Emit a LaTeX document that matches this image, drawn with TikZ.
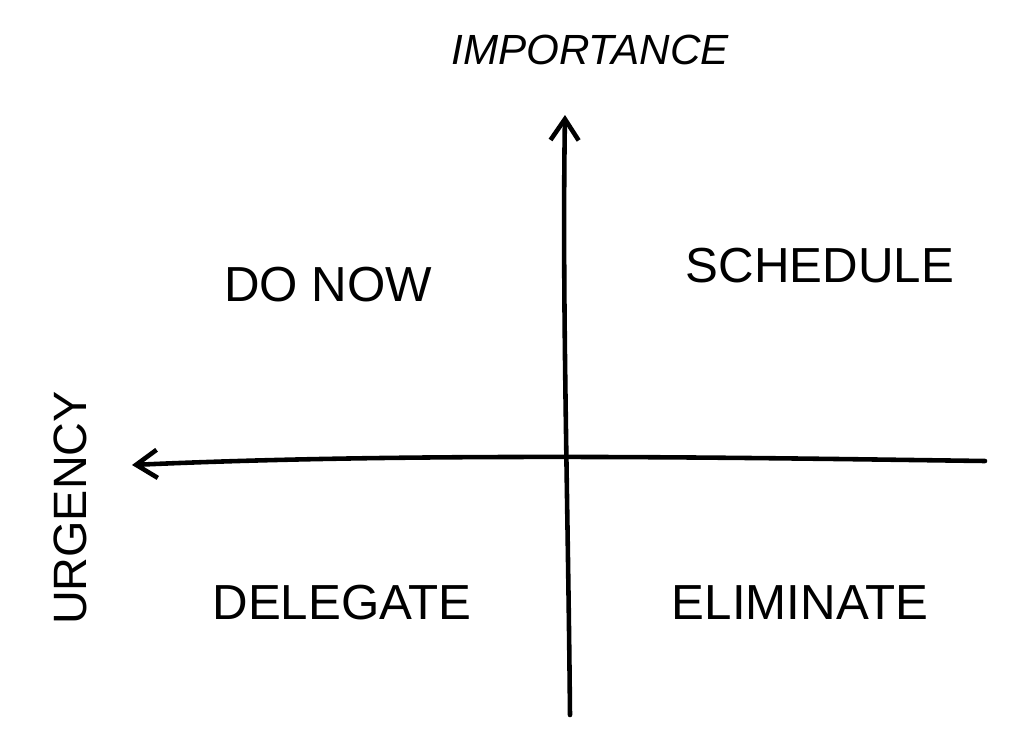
\documentclass[tikz,border=0pt]{standalone}
\usepackage{fontspec}
\setmainfont{Liberation Sans}
\usetikzlibrary{positioning,arrows.meta}

\begin{document}
\begin{tikzpicture}[x=0.01cm,y=-0.01cm,
axis/.style={line width=1.3pt,line cap=round,-{Straight Barb[length=6pt,width=8pt,line width=1.3pt]}},
quad/.style={font=\fontsize{14}{16}\selectfont,anchor=center}]
\useasboundingbox (0,0) rectangle (1011,745);
% axes
\coordinate (vbot) at (570,715);
\coordinate (vtop) at (565,115);
\coordinate (hright) at (985,461);
\coordinate (hleft) at (132,465);
\draw [axis] (vbot) .. controls (568,500) and (562,300) .. (vtop);
\draw [axis] (hright) .. controls (760,458) and (420,452) .. (hleft);
% axis labels
\node (imp) [font=\itshape\fontsize{12}{14}\selectfont] at (590,50) {IMPORTANCE};
\node (urg) [rotate=90,font=\fontsize{13.3}{15}\selectfont] at (70,508) {URGENCY};
% quadrants
\node (donow) [quad] at (328,285) {DO NOW};
\node (sched) [quad] at (820,266) {SCHEDULE};
\node (deleg) [quad] at (342,603) {DELEGATE};
\node (elim) [quad] at (800,603) {ELIMINATE};
\end{tikzpicture}
\end{document}
